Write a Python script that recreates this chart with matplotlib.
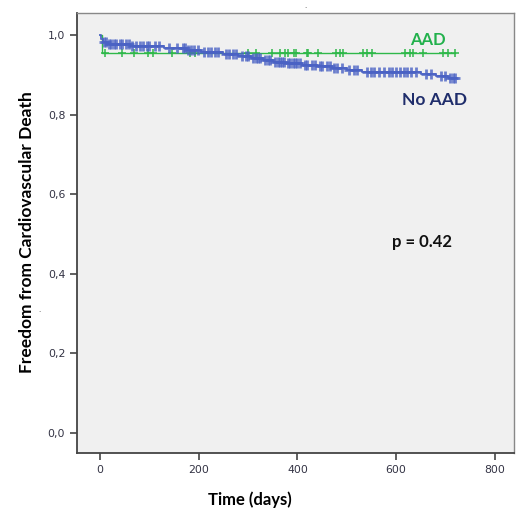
import numpy as np
import matplotlib.pyplot as plt

# Kaplan-Meier step data (day, survival) for each group
aad_times = [0, 3]
aad_surv = [1.0, 0.955]
aad_end = 720
aad_censored = [10, 44, 68, 98, 108, 145, 182, 192, 300, 317, 348, 365, 375, 381,
                392, 398, 419, 422, 442, 479, 486, 493, 533, 540, 550, 618, 628,
                635, 655, 695, 705, 719]

noaad_times = [0, 2, 6, 15, 60, 130, 175, 205, 250, 280, 305, 330, 350, 375, 410,
               440, 470, 500, 530, 650, 680, 705]
noaad_surv = [1.0, 0.99, 0.982, 0.977, 0.972, 0.967, 0.962, 0.958, 0.953, 0.948,
              0.943, 0.938, 0.933, 0.929, 0.925, 0.921, 0.916, 0.911, 0.906, 0.902,
              0.897, 0.893]
noaad_end = 722
noaad_censored = [8, 12, 18, 22, 28, 33, 40, 45, 52, 58, 65, 72, 80, 88, 95, 100, 112,
                  120, 140, 155, 168, 172, 178, 185, 190, 198, 210, 218, 225, 232, 240,
                  255, 262, 270, 275, 288, 295, 300, 310, 315, 320, 325, 335, 340, 345,
                  355, 360, 365, 368, 372, 380, 385, 390, 395, 400, 405, 415, 420, 430,
                  435, 445, 450, 460, 465, 475, 480, 490, 505, 515, 520, 540, 548, 555,
                  565, 575, 585, 592, 600, 608, 615, 622, 630, 640, 660, 670, 690, 698,
                  710, 715, 720]

xticks = [0, 200, 400, 600, 800]
yticks = [0.0, 0.2, 0.4, 0.6, 0.8, 1.0]
ylabels = ["0,0", "0,2", "0,4", "0,6", "0,8", "1,0"]
p_text = "p = 0.42"

green = "#2fb84a"
blue = "#4a62c4"

plt.rcParams['font.family'] = ['Lato', 'DejaVu Sans']


def km_curve(times, surv, end):
    x = list(times) + [end]
    y = list(surv) + [surv[-1]]
    return np.array(x), np.array(y)


def surv_at(times, surv, t):
    idx = np.searchsorted(times, t, side='right') - 1
    return np.array(surv)[idx]


fig = plt.figure(figsize=(5.17, 5.11), dpi=100)
ax = fig.add_axes([0.149, 0.1135, 0.845, 0.861])
ax.set_facecolor("#f0f0f0")

x, y = km_curve(aad_times, aad_surv, aad_end)
ax.step(x, y, where='post', color=green, lw=1.0, zorder=3)
ax.plot(aad_censored, surv_at(aad_times, aad_surv, aad_censored), '+',
        color=green, ms=6, mew=1.1, zorder=3)

x, y = km_curve(noaad_times, noaad_surv, noaad_end)
ax.step(x, y, where='post', color=blue, lw=1.4, alpha=0.9, zorder=4)
ax.plot(noaad_censored, surv_at(noaad_times, noaad_surv, noaad_censored), '+',
        color=blue, ms=6.5, mew=2.0, alpha=0.8, zorder=4)

ax.set_xlim(-46.6, 838.5)
ax.set_ylim(-0.05, 1.055)
ax.set_xticks(xticks)
ax.set_yticks(yticks)
ax.set_yticklabels(ylabels)
ax.tick_params(direction='out', length=5, width=1.2, color="#444444",
               labelsize=7.8, labelcolor="#333344", top=False, right=False)
for lbl in ax.get_xticklabels() + ax.get_yticklabels():
    lbl.set_family('DejaVu Sans')

for side in ['left', 'bottom']:
    ax.spines[side].set_color("#444444")
    ax.spines[side].set_linewidth(1.3)
for side in ['top', 'right']:
    ax.spines[side].set_color("#888888")
    ax.spines[side].set_linewidth(1.0)

ax.text(664, 0.987, "AAD", color="#22b14c", fontsize=12, fontweight='bold',
        ha='center', va='center')
ax.text(678, 0.837, "No AAD", color="#1f2d6b", fontsize=12.5, fontweight='bold',
        ha='center', va='center')
ax.text(652, 0.48, p_text, color="#111111", fontsize=12, fontweight='bold',
        ha='center', va='center')

fig.text(0.053, 0.546, "Freedom from Cardiovascular Death", rotation=90,
         fontsize=12.5, fontweight='bold', ha='center', va='center')
fig.text(0.484, 0.022, "Time (days)", fontsize=12, fontweight='bold',
         ha='center', va='center')
fig.text(0.077, 0.389, ".", fontsize=7, color="#555555", ha='center')
fig.text(0.592, 0.985, ".", fontsize=7, color="#555555", ha='center')

fig.savefig("out.png", dpi=100)
